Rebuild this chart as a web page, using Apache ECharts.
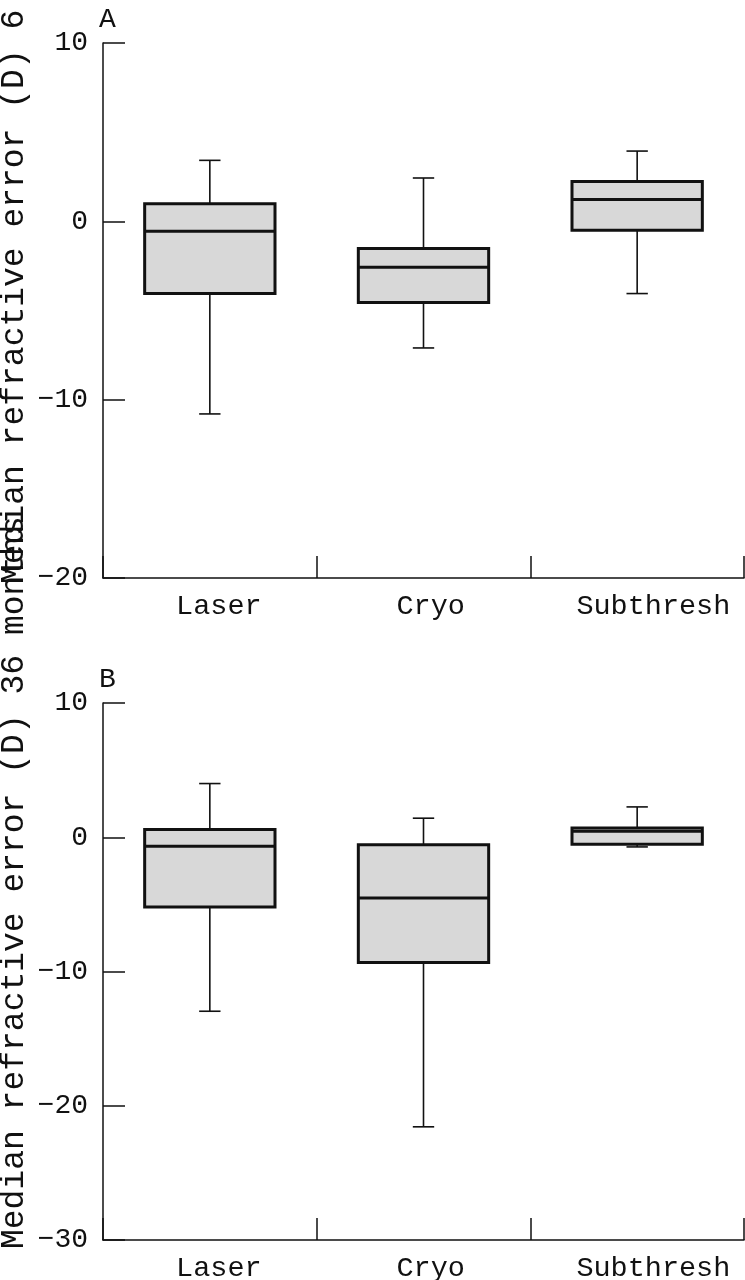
<!DOCTYPE html>
<html>
<head>
<meta charset="utf-8">
<script src="https://cdn.jsdelivr.net/npm/echarts@6/dist/echarts.min.js"></script>
<style>
html,body{margin:0;padding:0;background:#fff;}
#chart{width:745px;height:1280px;}
</style>
</head>
<body>
<div id="chart"></div>
<script>
// ---- data ----
const categories = ['Laser', 'Cryo', 'Subthresh'];
// Panel A: 6 months
const aMin = [-10.8, -7.1, -4.05];
const aQ1 = [-4.05, -4.55, -0.5];
const aMed = [-0.55, -2.58, 1.23];
const aQ3 = [0.99, -1.53, 2.24];
const aMax = [3.42, 2.43, 3.94];
// Panel B: 36 months
const bMin = [-12.96, -21.57, -0.72];
const bQ1 = [-5.2, -9.33, -0.52];
const bMed = [-0.67, -4.53, 0.45];
const bQ3 = [0.57, -0.55, 0.69];
const bMax = [4.0, 1.42, 2.26];
const yTicksA = [10, 0, -10, -20];
const yTicksB = [10, 0, -10, -20, -30];
const titleA = 'Median refractive error (D) 6 months';
const titleB = 'Median refractive error (D) 36 months';

const FONT = 'Liberation Mono';
const INK = '#111';

function rows(mn, q1, md, q3, mx) {
  return categories.map((c, i) => [i, mn[i], q1[i], md[i], q3[i], mx[i]]);
}

function renderItem(params, api) {
  const x = api.value(0);
  const lo = api.coord([x, api.value(1)]);
  const q1 = api.coord([x, api.value(2)]);
  const md = api.coord([x, api.value(3)]);
  const q3 = api.coord([x, api.value(4)]);
  const hi = api.coord([x, api.value(5)]);
  const band = api.size([1, 0])[0];
  const bw = band * 0.61;
  const cw = band * 0.1;
  const cx = q1[0];
  const thin = { stroke: INK, lineWidth: 1.6, fill: null };
  const thick = { stroke: INK, lineWidth: 3, fill: null };
  return {
    type: 'group',
    children: [
      { type: 'line', shape: { x1: cx, y1: hi[1], x2: cx, y2: q3[1] }, style: thin },
      { type: 'line', shape: { x1: cx, y1: q1[1], x2: cx, y2: lo[1] }, style: thin },
      { type: 'line', shape: { x1: cx - cw / 2, y1: hi[1], x2: cx + cw / 2, y2: hi[1] }, style: thin },
      { type: 'line', shape: { x1: cx - cw / 2, y1: lo[1], x2: cx + cw / 2, y2: lo[1] }, style: thin },
      { type: 'rect', shape: { x: cx - bw / 2, y: q3[1], width: bw, height: q1[1] - q3[1] },
        style: { fill: '#d8d8d8', stroke: INK, lineWidth: 3 } },
      { type: 'line', shape: { x1: cx - bw / 2, y1: md[1], x2: cx + bw / 2, y2: md[1] }, style: thick }
    ]
  };
}

// category labels sit slightly right of centre in the reference (left-anchored text)
const labelRich = {};
categories.forEach((c, i) => {
  labelRich['c' + i] = { fontFamily: FONT, fontSize: 28.5, color: INK, padding: [0, 0, 0, c.length * 3.6] };
});

function xAxis(gi) {
  return {
    type: 'category', gridIndex: gi, data: categories, boundaryGap: true,
    axisLine: { show: true, onZero: false, lineStyle: { color: INK, width: 1.5 } },
    axisTick: { show: true, inside: true, length: 22, interval: 0, alignWithLabel: false,
      lineStyle: { color: INK, width: 1.5 } },
    axisLabel: { color: INK, fontFamily: FONT, fontSize: 28.5, margin: 14, interval: 0, hideOverlap: false,
      formatter: (v, i) => '{c' + i + '|' + v + '}', rich: labelRich },
    splitLine: { show: false }
  };
}
function yAxis(gi, ticks) {
  return {
    type: 'value', gridIndex: gi, min: Math.min(...ticks), max: Math.max(...ticks), interval: 10,
    axisLine: { show: true, onZero: false, lineStyle: { color: INK, width: 1.5 } },
    axisTick: { show: true, inside: true, length: 22, lineStyle: { color: INK, width: 1.5 } },
    axisLabel: { color: INK, fontFamily: FONT, fontSize: 28, margin: 15,
      formatter: v => String(v).replace('-', '\u2212') },
    splitLine: { show: false }
  };
}

const chart = echarts.init(document.getElementById('chart'), null, { renderer: 'canvas' });
chart.setOption({
  backgroundColor: '#fff',
  animation: false,
  grid: [
    { left: 103, top: 43, width: 641, height: 535, containLabel: false, outerBoundsMode: 'none' },
    { left: 103, top: 703, width: 641, height: 537, containLabel: false, outerBoundsMode: 'none' }
  ],
  xAxis: [xAxis(0), xAxis(1)],
  yAxis: [yAxis(0, yTicksA), yAxis(1, yTicksB)],
  graphic: [
    { type: 'text', x: 99, y: 6, style: { text: 'A', font: '28px "' + FONT + '"', fill: INK } },
    { type: 'text', x: 99, y: 666, style: { text: 'B', font: '28px "' + FONT + '"', fill: INK } },
    { type: 'text', x: 14, y: 584, rotation: Math.PI / 2,
      style: { text: titleA, font: '33px "' + FONT + '"', fill: INK, textAlign: 'left', textVerticalAlign: 'middle' } },
    { type: 'text', x: 14, y: 1249, rotation: Math.PI / 2,
      style: { text: titleB, font: '33px "' + FONT + '"', fill: INK, textAlign: 'left', textVerticalAlign: 'middle' } }
  ],
  series: [
    { type: 'custom', xAxisIndex: 0, yAxisIndex: 0, renderItem, data: rows(aMin, aQ1, aMed, aQ3, aMax) },
    { type: 'custom', xAxisIndex: 1, yAxisIndex: 1, renderItem, data: rows(bMin, bQ1, bMed, bQ3, bMax) }
  ]
});
</script>
</body>
</html>
